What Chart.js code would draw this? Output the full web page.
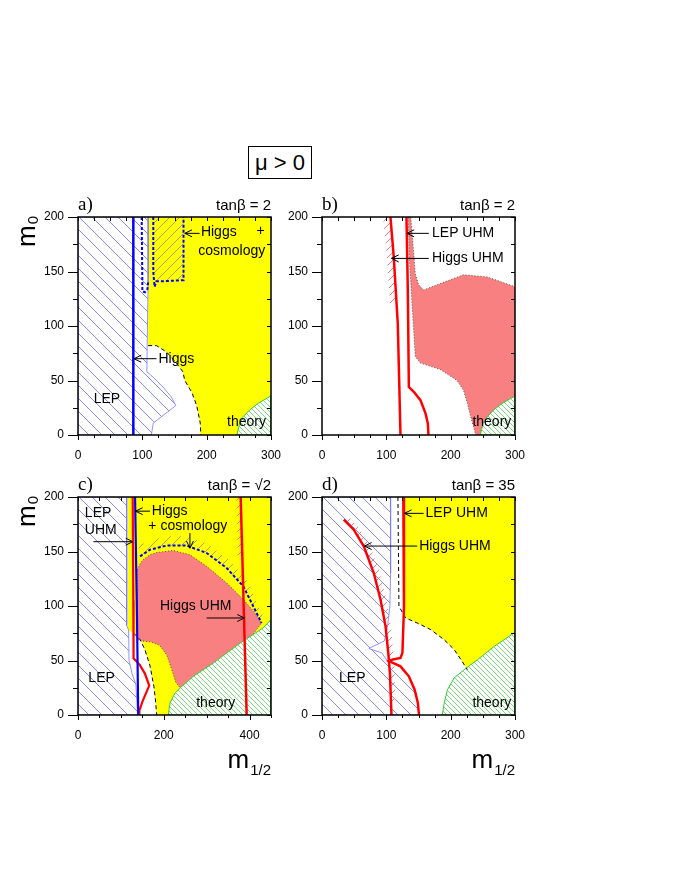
<!DOCTYPE html>
<html>
<head>
<meta charset="utf-8">
<script src="https://cdn.jsdelivr.net/npm/chart.js@4.4.1/dist/chart.umd.min.js"></script>
<style>
  body { margin: 0; background: #fff; width: 674px; height: 872px; position: relative; overflow: hidden;
         font-family: "Liberation Sans", Arial, Helvetica, sans-serif; }
  canvas { position: absolute; }
  #mu { position: absolute; left: 248px; top: 146px; width: 62px; height: 31px; border: 1px solid #000;
        font-size: 22px; line-height: 31px; text-align: center; }
</style>
</head>
<body>
<div id="mu">μ &gt; 0</div>
<canvas id="pa" width="300" height="330" style="left:0;top:177px"></canvas>
<canvas id="pb" width="300" height="330" style="left:244px;top:177px"></canvas>
<canvas id="pc" width="300" height="330" style="left:0;top:457px"></canvas>
<canvas id="pd" width="300" height="330" style="left:244px;top:457px"></canvas>
<script>
// axis ticks
const X_TICKS = [0, 100, 200, 300];
const X_TICKS_C = [0, 200, 400];
const Y_TICKS = [0, 50, 100, 150, 200];

// panel a) tan beta = 2
const A_YELLOW = [[109, 200], [300, 200], [300, 0], [191, 0], [190, 11], [184.5, 27], [177, 39], [166, 50],
  [163, 58], [153, 66], [138, 76], [122, 82], [109, 82]];
const A_YELLOW_EDGE = [[109, 82], [122, 82], [138, 76], [153, 66], [163, 58], [166, 50], [177, 39],
  [184.5, 27], [190, 11], [191, 0]];
const A_LEP = [[0, 200], [109, 200], [109, 140], [108, 100], [107, 58], [117, 53], [132, 44], [145, 35],
  [152, 27], [117, 11], [114, 0], [0, 0]];
const A_THEORY = [[247, 0], [251, 10], [257, 17], [267, 23], [280, 29], [300, 36], [300, 0]];
const A_HIGGS = [[86, 0], [86, 200]];
const A_HC_LEFT = [[99, 200], [100, 140], [100, 132], [104, 131], [108, 134], [109, 140]];
const A_HC_BOX = [[117, 200], [117, 150], [119, 136], [122, 141], [130, 141], [164, 142], [164, 200]];

// panel b) tan beta = 2
const B_PINK = [[134, 200], [138, 200], [141, 178], [145, 148], [150, 138], [158, 133], [184, 139], [220, 147],
  [257, 145], [300, 136], [300, 36], [280, 29], [267, 23], [257, 17], [250, 10], [246, 0], [239, 0], [231, 17],
  [226, 29], [220, 41], [210, 50], [184, 60], [153, 66], [145, 72], [140, 120], [136, 160]];
const B_THEORY = [[246, 0], [250.6, 10.7], [257, 16.8], [267, 23], [280, 29], [300, 35.7], [300, 0]];
const B_HIGGS_UHM = [[106.4, 200], [111.6, 163], [117.8, 102], [122, 0]];
const B_HIGGS_UHM_HATCH = [[95, 200], [106.4, 200], [111.6, 163], [116, 120], [106, 120], [101, 163]];
const B_LEP_UHM = [[131.3, 200], [133.4, 133], [135, 44], [142.7, 39.7], [153, 32], [160.9, 19.8],
  [164.5, 10.7], [165.5, 0]];

// panel c) tan beta = sqrt 2
const C_YELLOW = [[115.8, 200], [450, 200], [450, 0], [183.5, 0], [181, 12], [177, 26], [168, 45], [156, 60],
  [145, 69], [130, 75], [115.8, 78]];
const C_YELLOW_EDGE = [[130, 75], [145, 69], [156, 60], [168, 45], [177, 26], [181, 12], [183.5, 0]];
const C_PINK = [[138, 133], [145, 139], [152, 142.5], [168, 147], [183, 149], [222, 151], [261, 147],
  [300, 136.4], [347, 121], [385.5, 106], [410, 95], [428, 84.4], [400, 70], [350, 55], [300, 44], [260, 32],
  [238, 25], [228, 30], [220, 40], [207, 55], [190, 64], [170, 67], [148, 68], [138, 69]];
const C_THEORY = [[210.6, 0], [214.5, 11], [226, 20], [242, 26.3], [269, 35.5], [315.5, 47.7], [378, 66],
  [432, 80], [450, 87.5], [450, 0]];
const C_LEP = [[0, 200], [113.5, 200], [113.5, 82], [118, 78], [119, 50], [126, 38], [135, 28], [139, 0], [0, 0]];
const C_HC = [[144.6, 145.6], [168, 151.7], [206.7, 155.4], [253.4, 155.4], [300, 148.6], [346.6, 134.9],
  [385.5, 118], [428, 84.4]];
const C_HC_HATCH = [[140, 155], [168, 160], [206, 164], [253, 164], [302, 157], [350, 143], [390, 126],
  [433, 90], [428, 84.4], [385.5, 118], [346.6, 134.9], [300, 148.6], [253.4, 155.4], [206.7, 155.4],
  [168, 151.7], [144.6, 145.6]];
const C_HIGGS = [[133, 200], [137, 105], [140.5, 0]];
const C_LEP_UHM = [[127.5, 200], [129, 105], [129.5, 52], [144, 46], [156, 38], [166, 27], [150, 12],
  [143, 4], [143, 0]];
const C_HIGGS_UHM = [[379.3, 200], [393.3, 0]];
const C_HIGGS_UHM_HATCH = [[369, 200], [379.3, 200], [383, 145], [373, 145]];

// panel d) tan beta = 35
const D_YELLOW = [[127, 200], [300, 200], [300, 75.8], [268, 63], [242, 51], [226, 41.6], [216, 50.8],
  [205.4, 60], [190, 69], [169, 78.3], [148, 84.4], [130, 89], [127, 93]];
const D_YELLOW_EDGE = [[118, 200], [119.6, 99.7], [130, 89], [148, 84.4], [169, 78.3], [190, 69],
  [205.4, 60], [216, 50.8], [226, 41.6]];
const D_THEORY = [[187, 0], [190, 11], [195, 23.2], [205.4, 34], [221, 41.6], [241.8, 50.8], [267.8, 63],
  [300, 75.8], [300, 0]];
const D_LEP = [[0, 200], [106.6, 200], [106.6, 130], [105.6, 100], [102, 82], [97, 68], [72.8, 61], [93, 57],
  [101, 50], [106.6, 49.2], [122, 44.6], [135, 35.5], [144, 23.2], [149, 11], [150.8, 0], [0, 0]];
const D_HIGGS_UHM = [[33.8, 179.2], [49.4, 170], [65, 154.7], [80.6, 130], [91, 105.8], [98.8, 81.3],
  [103, 56.9], [105.6, 38.5], [108, 0]];
const D_HIGGS_UHM_HATCH = [[33.8, 179.2], [49.4, 170], [65, 154.7], [80.6, 130], [91, 105.8], [98.8, 81.3],
  [103, 56.9], [105.6, 38.5], [106.8, 12], [114, 12], [113, 38.5], [111, 57], [107, 81.3], [100, 105.8],
  [90, 130], [75, 154.7], [59, 170], [42, 182]];
const D_LEP_UHM = [[126.4, 200], [127.4, 98], [125, 57], [122, 52.3], [110, 51], [104, 49.5], [122, 44.6],
  [135, 35.5], [144, 23.2], [149, 11], [150.8, 0]];

const YELLOW = "#ffff00";
const PINK = "#f98080";
const RED = "#ff0000";
const BLUE = "#0000ff";
const LEP_LINE = "#7777ff";
const GREEN = "#33cc33";

Chart.defaults.font.family = '"Liberation Sans", Arial, Helvetica, sans-serif';
Chart.defaults.font.size = 12;
Chart.defaults.color = "#000";

const makeHatch = (color, step, slope, lineWidth, background) => {
  const tile = document.createElement("canvas");
  tile.width = step;
  tile.height = step;
  const g = tile.getContext("2d");
  if (background) {
    g.fillStyle = background;
    g.fillRect(0, 0, step, step);
  }
  g.strokeStyle = color;
  g.lineWidth = lineWidth;
  g.beginPath();
  for (const k of [-step, 0, step]) {
    if (slope === "back") {
      g.moveTo(k, 0);
      g.lineTo(k + step, step);
    } else {
      g.moveTo(k, step);
      g.lineTo(k + step, 0);
    }
  }
  g.stroke();
  return g.createPattern(tile, "repeat");
};

const LEP_HATCH = makeHatch("#6a6aff", 13, "back", 0.8, null);
const THEORY_HATCH = makeHatch("#3ccc3c", 5, "back", 0.7, "#ffffff");
const HC_HATCH = makeHatch("#8a8a8a", 10, "fwd", 0.8, null);
const RED_HATCH = makeHatch("#ff6a6a", 8, "fwd", 0.9, null);

const pts = (arr) => arr.map(([x, y]) => ({ x, y }));

const area = (arr, fill, border = {}) => ({
  data: pts([...arr, arr[0]]),
  showLine: true,
  fill: "shape",
  backgroundColor: fill,
  borderColor: border.color || "rgba(0,0,0,0)",
  borderWidth: border.width || 1,
  borderDash: border.dash || [],
  pointRadius: 0,
  tension: 0,
});

const curve = (arr, color, width, dash = []) => ({
  data: pts(arr),
  showLine: true,
  fill: false,
  borderColor: color,
  borderWidth: width,
  borderDash: dash,
  pointRadius: 0,
  tension: 0,
});

const drawArrow = (ctx, x1, y1, x2, y2) => {
  const ang = Math.atan2(y2 - y1, x2 - x1);
  const head = 8;
  ctx.beginPath();
  ctx.moveTo(x1, y1);
  ctx.lineTo(x2, y2);
  ctx.moveTo(x2 - head * Math.cos(ang - 0.45), y2 - head * Math.sin(ang - 0.45));
  ctx.lineTo(x2, y2);
  ctx.lineTo(x2 - head * Math.cos(ang + 0.45), y2 - head * Math.sin(ang + 0.45));
  ctx.stroke();
};

const decor = (cfg) => ({
  id: "decor",
  afterDatasetsDraw(chart) {
    const { ctx, scales } = chart;
    const { x, y } = scales;
    ctx.save();
    ctx.fillStyle = "#000";
    ctx.strokeStyle = "#000";
    ctx.lineWidth = 1;
    ctx.font = '14px "Liberation Sans", Arial, sans-serif';
    ctx.textBaseline = "middle";
    cfg.labels.forEach((l) => {
      ctx.textAlign = l.align || "left";
      ctx.fillText(l.text, x.getPixelForValue(l.x), y.getPixelForValue(l.y));
    });
    cfg.arrows.forEach((a) => {
      drawArrow(ctx, x.getPixelForValue(a.from[0]), y.getPixelForValue(a.from[1]),
        x.getPixelForValue(a.to[0]), y.getPixelForValue(a.to[1]));
    });
    ctx.restore();
  },
  afterDraw(chart) {
    const { ctx, chartArea: c, scales } = chart;
    const { x, y } = scales;
    ctx.save();
    ctx.strokeStyle = "#000";
    ctx.fillStyle = "#000";

    // minor and mirrored ticks
    ctx.lineWidth = 1;
    ctx.beginPath();
    for (let v = x.min; v <= x.max + 1e-6; v += cfg.xMinor) {
      const px = Math.round(x.getPixelForValue(v)) + 0.5;
      const major = cfg.xTicks.includes(v);
      ctx.moveTo(px, c.bottom);
      ctx.lineTo(px, c.bottom + (major ? 5 : 3));
      ctx.moveTo(px, c.top);
      ctx.lineTo(px, c.top + 4);
    }
    for (let v = y.min; v <= y.max + 1e-6; v += 25) {
      const py = Math.round(y.getPixelForValue(v)) + 0.5;
      const major = v % 50 === 0;
      ctx.moveTo(c.left, py);
      ctx.lineTo(c.left - (major ? 10 : 5), py);
      ctx.moveTo(c.right, py);
      ctx.lineTo(c.right - 4, py);
    }
    ctx.stroke();

    // frame
    ctx.lineWidth = 1.5;
    ctx.strokeRect(c.left, c.top, c.right - c.left, c.bottom - c.top);

    // panel tag and tan beta
    ctx.textBaseline = "alphabetic";
    ctx.textAlign = "left";
    ctx.font = '19px "Liberation Serif", "Times New Roman", serif';
    ctx.fillText(cfg.tag, c.left, c.top - 7);
    ctx.textAlign = "right";
    ctx.font = '15px "Liberation Sans", Arial, sans-serif';
    ctx.fillText(cfg.tan, c.right, c.top - 7);

    // axis titles
    if (cfg.yTitle) {
      ctx.save();
      ctx.translate(c.left - 43, c.top + 30);
      ctx.rotate(-Math.PI / 2);
      ctx.textAlign = "left";
      ctx.font = '26px "Liberation Sans", Arial, sans-serif';
      ctx.fillText("m", 0, 0);
      const w = ctx.measureText("m").width;
      ctx.font = '15px "Liberation Sans", Arial, sans-serif';
      ctx.fillText("0", w + 1, 3);
      ctx.restore();
    }
    if (cfg.xTitle) {
      ctx.textAlign = "right";
      ctx.font = '15px "Liberation Sans", Arial, sans-serif';
      ctx.fillText("1/2", c.right, c.bottom + 60);
      const w = ctx.measureText("1/2").width;
      ctx.font = '26px "Liberation Sans", Arial, sans-serif';
      ctx.fillText("m", c.right - w - 1, c.bottom + 53);
    }
    ctx.restore();
  },
});

const buildPanel = (canvasId, cfg) => {
  const datasets = cfg.layers.map((d, i) => ({ ...d, order: cfg.layers.length - i }));
  return new Chart(document.getElementById(canvasId), {
    type: "scatter",
    data: { datasets },
    plugins: [decor(cfg)],
    options: {
      responsive: false,
      animation: false,
      events: [],
      layout: { padding: { top: 40, right: 29, left: 0, bottom: 0 } },
      plugins: { legend: { display: false }, tooltip: { enabled: false } },
      scales: {
        x: {
          type: "linear",
          min: 0,
          max: cfg.xMax,
          afterBuildTicks: (s) => { s.ticks = cfg.xTicks.map((v) => ({ value: v })); },
          afterFit: (s) => { s.height = 72; },
          grid: { display: false, drawTicks: false },
          border: { display: false },
          ticks: { padding: 13, maxRotation: 0, autoSkip: false, font: { size: 12 }, color: "#000" },
        },
        y: {
          type: "linear",
          min: 0,
          max: 200,
          afterBuildTicks: (s) => { s.ticks = Y_TICKS.map((v) => ({ value: v })); },
          afterFit: (s) => { s.width = 78; },
          grid: { display: false, drawTicks: false },
          border: { display: false },
          ticks: { padding: 14, font: { size: 12 }, color: "#000" },
        },
      },
    },
  });
};

buildPanel("pa", {
  tag: "a)", tan: "tanβ = 2", xMax: 300, xTicks: X_TICKS, xMinor: 25, yTitle: true, xTitle: false,
  layers: [
    area(A_YELLOW, YELLOW),
    area(A_HC_BOX, HC_HATCH),
    area(A_THEORY, THEORY_HATCH, { color: GREEN, width: 1 }),
    area(A_LEP, LEP_HATCH, { color: LEP_LINE, width: 0.8 }),
    curve(A_YELLOW_EDGE, "#000", 1, [4, 3]),
    curve(A_HC_LEFT, BLUE, 2, [3, 2]),
    curve(A_HC_BOX, BLUE, 2, [3, 2]),
    curve(A_HIGGS, BLUE, 2.5),
  ],
  labels: [
    { text: "LEP", x: 45, y: 33, align: "center" },
    { text: "Higgs", x: 125, y: 70 },
    { text: "Higgs", x: 191, y: 186 },
    { text: "+", x: 284, y: 187, align: "center" },
    { text: "cosmology", x: 187, y: 169 },
    { text: "theory", x: 262, y: 12, align: "center" },
  ],
  arrows: [
    { from: [122, 70], to: [87, 70] },
    { from: [189, 185], to: [166, 185] },
  ],
});

buildPanel("pb", {
  tag: "b)", tan: "tanβ = 2", xMax: 300, xTicks: X_TICKS, xMinor: 25, yTitle: false, xTitle: false,
  layers: [
    area(B_PINK, PINK, { color: "#333", width: 0.8, dash: [1, 2] }),
    area(B_HIGGS_UHM_HATCH, RED_HATCH),
    area(B_THEORY, THEORY_HATCH, { color: GREEN, width: 1 }),
    curve(B_HIGGS_UHM, RED, 2.5),
    curve(B_LEP_UHM, RED, 2.5),
  ],
  labels: [
    { text: "LEP UHM", x: 171, y: 185 },
    { text: "Higgs UHM", x: 171, y: 162 },
    { text: "theory", x: 264, y: 12, align: "center" },
  ],
  arrows: [
    { from: [166, 185], to: [132, 185] },
    { from: [166, 162], to: [108, 162] },
  ],
});

buildPanel("pc", {
  tag: "c)", tan: "tanβ = √2", xMax: 450, xTicks: X_TICKS_C, xMinor: 50, yTitle: true, xTitle: true,
  layers: [
    area(C_YELLOW, YELLOW),
    area(C_PINK, PINK, { color: "#333", width: 0.8, dash: [1, 2] }),
    area(C_HC_HATCH, HC_HATCH),
    area(C_THEORY, THEORY_HATCH, { color: GREEN, width: 1 }),
    area(C_LEP, LEP_HATCH, { color: LEP_LINE, width: 0.8 }),
    area(C_HIGGS_UHM_HATCH, RED_HATCH),
    curve(C_YELLOW_EDGE, "#000", 1, [4, 3]),
    curve(C_HC, BLUE, 2, [3, 2]),
    curve(C_LEP_UHM, RED, 2.2),
    curve(C_HIGGS, BLUE, 2.2),
    curve(C_HIGGS_UHM, RED, 2.5),
  ],
  labels: [
    { text: "LEP", x: 55, y: 34, align: "center" },
    { text: "LEP", x: 16, y: 185 },
    { text: "UHM", x: 16, y: 170 },
    { text: "Higgs", x: 172, y: 187 },
    { text: "+ cosmology", x: 164, y: 173 },
    { text: "Higgs UHM", x: 191, y: 100 },
    { text: "theory", x: 321, y: 11, align: "center" },
  ],
  arrows: [
    { from: [36, 159], to: [128, 159] },
    { from: [168, 187], to: [134, 187] },
    { from: [261, 167], to: [261, 153] },
    { from: [300, 89], to: [388, 89] },
  ],
});

buildPanel("pd", {
  tag: "d)", tan: "tanβ = 35", xMax: 300, xTicks: X_TICKS, xMinor: 25, yTitle: false, xTitle: true,
  layers: [
    area(D_YELLOW, YELLOW),
    area(D_THEORY, THEORY_HATCH, { color: GREEN, width: 1 }),
    area(D_LEP, LEP_HATCH, { color: LEP_LINE, width: 0.8 }),
    curve(D_YELLOW_EDGE, "#000", 1, [4, 3]),
    area(D_HIGGS_UHM_HATCH, RED_HATCH),
    curve(D_HIGGS_UHM, RED, 2.5),
    curve(D_LEP_UHM, RED, 2.5),
  ],
  labels: [
    { text: "LEP", x: 47, y: 34, align: "center" },
    { text: "LEP UHM", x: 161, y: 185 },
    { text: "Higgs UHM", x: 151, y: 155 },
    { text: "theory", x: 264, y: 11, align: "center" },
  ],
  arrows: [
    { from: [158, 185], to: [128, 185] },
    { from: [148, 155], to: [66, 155] },
  ],
});
</script>
</body>
</html>
